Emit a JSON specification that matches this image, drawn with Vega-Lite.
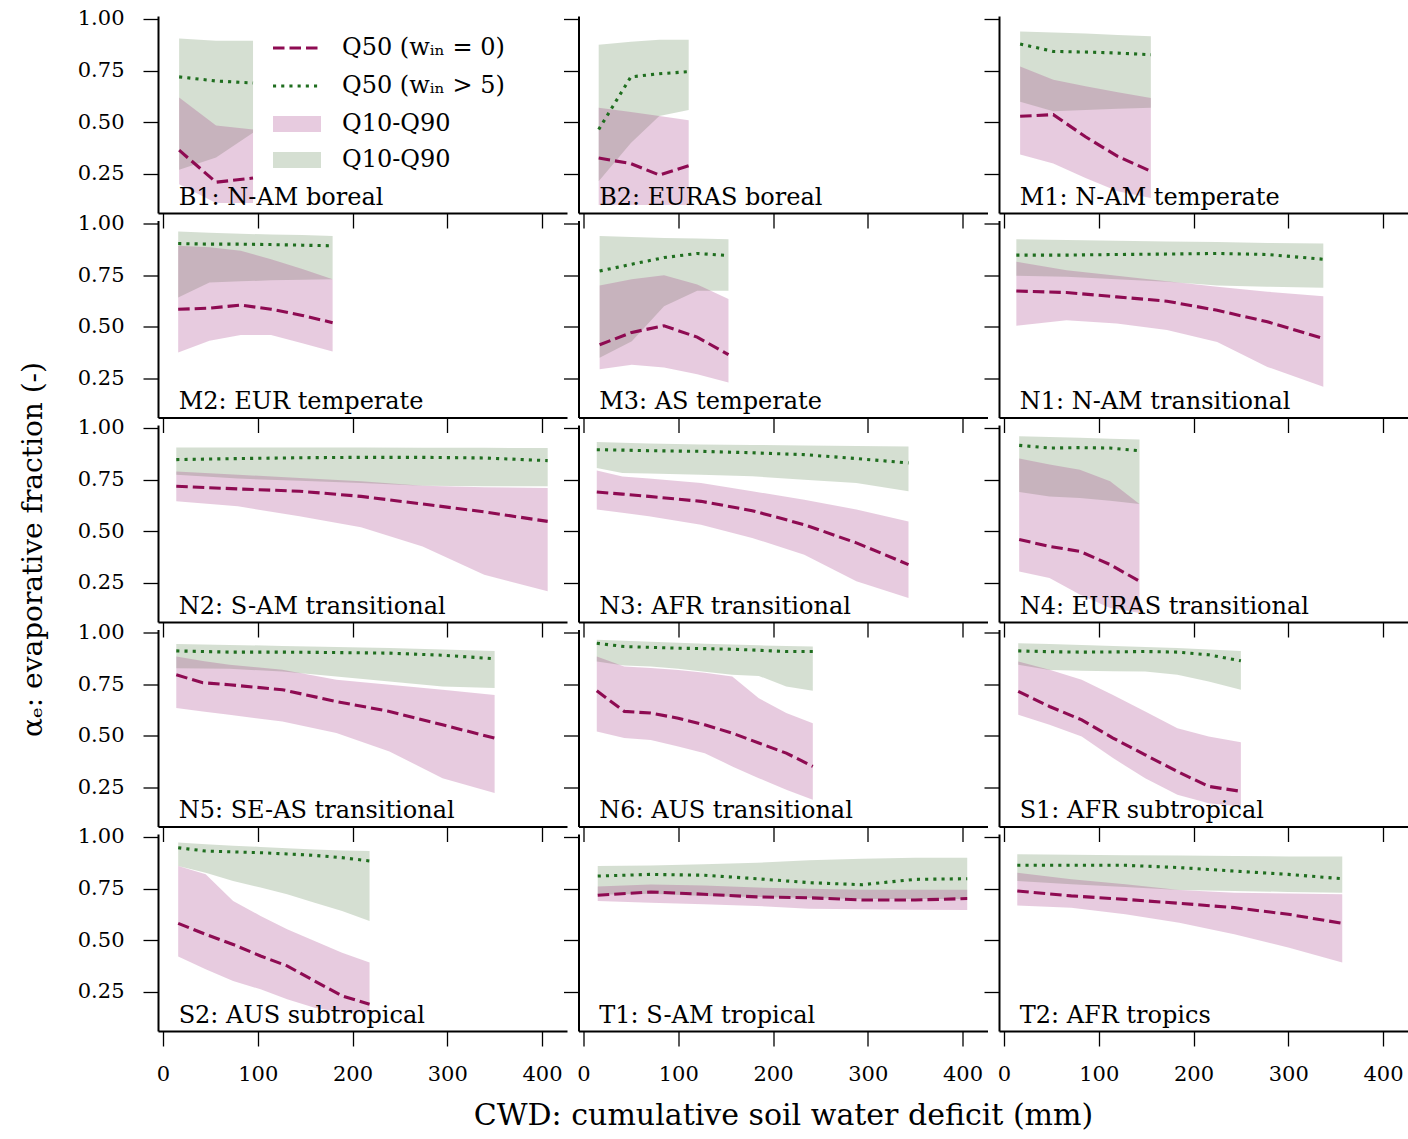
{
"$schema":"https://vega.github.io/schema/vega-lite/v6.json",
"background":"white",
"padding":{"left":19,"top":7,"right":0,"bottom":0},
"columns":3,
"spacing":{"row":7.5,"column":11.5},
"bounds":"flush",
"data":{"values":[
{"panel":"B1","cwd":17,"p10":0.20,"p50":0.365,"p90":0.62,"g10":0.27,"g50":0.72,"g90":0.905},
{"panel":"B1","cwd":56,"p10":0.11,"p50":0.21,"p90":0.485,"g10":0.33,"g50":0.70,"g90":0.895},
{"panel":"B1","cwd":95,"p10":0.11,"p50":0.23,"p90":0.465,"g10":0.45,"g50":0.69,"g90":0.895},
{"panel":"B2","cwd":16,"p10":0.10,"p50":0.327,"p90":0.57,"g10":0.215,"g50":0.465,"g90":0.875},
{"panel":"B2","cwd":50,"p10":0.10,"p50":0.30,"p90":0.55,"g10":0.40,"g50":0.72,"g90":0.89},
{"panel":"B2","cwd":80,"p10":0.10,"p50":0.245,"p90":0.53,"g10":0.53,"g50":0.735,"g90":0.90},
{"panel":"B2","cwd":111,"p10":0.10,"p50":0.29,"p90":0.51,"g10":0.56,"g50":0.745,"g90":0.90},
{"panel":"M1","cwd":17,"p10":0.344,"p50":0.529,"p90":0.77,"g10":0.60,"g50":0.879,"g90":0.94},
{"panel":"M1","cwd":52,"p10":0.30,"p50":0.537,"p90":0.706,"g10":0.553,"g50":0.843,"g90":0.935},
{"panel":"M1","cwd":86,"p10":0.23,"p50":0.43,"p90":0.674,"g10":0.56,"g50":0.84,"g90":0.93},
{"panel":"M1","cwd":120,"p10":0.166,"p50":0.335,"p90":0.645,"g10":0.565,"g50":0.835,"g90":0.922},
{"panel":"M1","cwd":155,"p10":0.134,"p50":0.263,"p90":0.618,"g10":0.57,"g50":0.827,"g90":0.916},
{"panel":"M2","cwd":16,"p10":0.376,"p50":0.585,"p90":0.892,"g10":0.642,"g50":0.903,"g90":0.961},
{"panel":"M2","cwd":49,"p10":0.432,"p50":0.59,"p90":0.885,"g10":0.715,"g50":0.90,"g90":0.955},
{"panel":"M2","cwd":82,"p10":0.46,"p50":0.605,"p90":0.868,"g10":0.72,"g50":0.90,"g90":0.95},
{"panel":"M2","cwd":114,"p10":0.46,"p50":0.585,"p90":0.827,"g10":0.725,"g50":0.898,"g90":0.947},
{"panel":"M2","cwd":147,"p10":0.42,"p50":0.555,"p90":0.78,"g10":0.728,"g50":0.895,"g90":0.944},
{"panel":"M2","cwd":179,"p10":0.38,"p50":0.52,"p90":0.73,"g10":0.73,"g50":0.892,"g90":0.94},
{"panel":"M3","cwd":17,"p10":0.295,"p50":0.413,"p90":0.70,"g10":0.35,"g50":0.77,"g90":0.94},
{"panel":"M3","cwd":51,"p10":0.316,"p50":0.473,"p90":0.73,"g10":0.43,"g50":0.803,"g90":0.935},
{"panel":"M3","cwd":85,"p10":0.303,"p50":0.505,"p90":0.75,"g10":0.60,"g50":0.835,"g90":0.93},
{"panel":"M3","cwd":120,"p10":0.27,"p50":0.45,"p90":0.705,"g10":0.674,"g50":0.855,"g90":0.927},
{"panel":"M3","cwd":153,"p10":0.23,"p50":0.365,"p90":0.634,"g10":0.674,"g50":0.845,"g90":0.924},
{"panel":"N1","cwd":13,"p10":0.505,"p50":0.673,"p90":0.815,"g10":0.747,"g50":0.847,"g90":0.924},
{"panel":"N1","cwd":66,"p10":0.532,"p50":0.666,"p90":0.774,"g10":0.742,"g50":0.847,"g90":0.92},
{"panel":"N1","cwd":119,"p10":0.516,"p50":0.645,"p90":0.747,"g10":0.73,"g50":0.85,"g90":0.917},
{"panel":"N1","cwd":172,"p10":0.484,"p50":0.624,"p90":0.72,"g10":0.718,"g50":0.852,"g90":0.913},
{"panel":"N1","cwd":225,"p10":0.427,"p50":0.58,"p90":0.694,"g10":0.70,"g50":0.855,"g90":0.91},
{"panel":"N1","cwd":278,"p10":0.306,"p50":0.524,"p90":0.67,"g10":0.694,"g50":0.85,"g90":0.906},
{"panel":"N1","cwd":337,"p10":0.21,"p50":0.444,"p90":0.648,"g10":0.689,"g50":0.827,"g90":0.903},
{"panel":"N2","cwd":14,"p10":0.645,"p50":0.718,"p90":0.79,"g10":0.774,"g50":0.847,"g90":0.906},
{"panel":"N2","cwd":79,"p10":0.621,"p50":0.705,"p90":0.774,"g10":0.755,"g50":0.852,"g90":0.906},
{"panel":"N2","cwd":144,"p10":0.573,"p50":0.694,"p90":0.758,"g10":0.745,"g50":0.856,"g90":0.905},
{"panel":"N2","cwd":209,"p10":0.519,"p50":0.669,"p90":0.742,"g10":0.734,"g50":0.858,"g90":0.905},
{"panel":"N2","cwd":274,"p10":0.427,"p50":0.632,"p90":0.72,"g10":0.72,"g50":0.858,"g90":0.904},
{"panel":"N2","cwd":339,"p10":0.29,"p50":0.594,"p90":0.713,"g10":0.718,"g50":0.855,"g90":0.904},
{"panel":"N2","cwd":406,"p10":0.21,"p50":0.548,"p90":0.71,"g10":0.718,"g50":0.842,"g90":0.903},
{"panel":"N3","cwd":14,"p10":0.605,"p50":0.69,"p90":0.794,"g10":0.806,"g50":0.895,"g90":0.932},
{"panel":"N3","cwd":41,"p10":0.59,"p50":0.68,"p90":0.765,"g10":0.782,"g50":0.893,"g90":0.928},
{"panel":"N3","cwd":69,"p10":0.573,"p50":0.669,"p90":0.755,"g10":0.78,"g50":0.89,"g90":0.925},
{"panel":"N3","cwd":124,"p10":0.532,"p50":0.645,"p90":0.734,"g10":0.774,"g50":0.887,"g90":0.92},
{"panel":"N3","cwd":178,"p10":0.468,"p50":0.60,"p90":0.694,"g10":0.766,"g50":0.88,"g90":0.918},
{"panel":"N3","cwd":233,"p10":0.387,"p50":0.532,"p90":0.653,"g10":0.75,"g50":0.871,"g90":0.915},
{"panel":"N3","cwd":288,"p10":0.258,"p50":0.444,"p90":0.605,"g10":0.734,"g50":0.852,"g90":0.913},
{"panel":"N3","cwd":343,"p10":0.177,"p50":0.339,"p90":0.548,"g10":0.694,"g50":0.831,"g90":0.911},
{"panel":"N4","cwd":16,"p10":0.306,"p50":0.46,"p90":0.852,"g10":0.69,"g50":0.916,"g90":0.96},
{"panel":"N4","cwd":48,"p10":0.274,"p50":0.427,"p90":0.823,"g10":0.669,"g50":0.903,"g90":0.957},
{"panel":"N4","cwd":80,"p10":0.194,"p50":0.403,"p90":0.798,"g10":0.661,"g50":0.905,"g90":0.953},
{"panel":"N4","cwd":112,"p10":0.129,"p50":0.339,"p90":0.742,"g10":0.648,"g50":0.903,"g90":0.948},
{"panel":"N4","cwd":143,"p10":0.105,"p50":0.258,"p90":0.632,"g10":0.632,"g50":0.89,"g90":0.944},
{"panel":"N5","cwd":14,"p10":0.634,"p50":0.795,"p90":0.884,"g10":0.827,"g50":0.911,"g90":0.944},
{"panel":"N5","cwd":42,"p10":0.618,"p50":0.757,"p90":0.862,"g10":0.826,"g50":0.908,"g90":0.942},
{"panel":"N5","cwd":70,"p10":0.602,"p50":0.747,"p90":0.844,"g10":0.824,"g50":0.905,"g90":0.94},
{"panel":"N5","cwd":126,"p10":0.569,"p50":0.723,"p90":0.82,"g10":0.811,"g50":0.905,"g90":0.935},
{"panel":"N5","cwd":183,"p10":0.513,"p50":0.666,"p90":0.771,"g10":0.787,"g50":0.903,"g90":0.93},
{"panel":"N5","cwd":239,"p10":0.424,"p50":0.618,"p90":0.747,"g10":0.763,"g50":0.90,"g90":0.925},
{"panel":"N5","cwd":295,"p10":0.295,"p50":0.553,"p90":0.723,"g10":0.739,"g50":0.89,"g90":0.918},
{"panel":"N5","cwd":350,"p10":0.223,"p50":0.489,"p90":0.698,"g10":0.731,"g50":0.873,"g90":0.911},
{"panel":"N6","cwd":14,"p10":0.521,"p50":0.718,"p90":0.884,"g10":0.86,"g50":0.948,"g90":0.965},
{"panel":"N6","cwd":43,"p10":0.489,"p50":0.618,"p90":0.835,"g10":0.84,"g50":0.932,"g90":0.96},
{"panel":"N6","cwd":71,"p10":0.48,"p50":0.61,"p90":0.828,"g10":0.835,"g50":0.928,"g90":0.955},
{"panel":"N6","cwd":100,"p10":0.448,"p50":0.585,"p90":0.819,"g10":0.825,"g50":0.924,"g90":0.95},
{"panel":"N6","cwd":128,"p10":0.416,"p50":0.553,"p90":0.805,"g10":0.81,"g50":0.922,"g90":0.945},
{"panel":"N6","cwd":157,"p10":0.352,"p50":0.513,"p90":0.787,"g10":0.795,"g50":0.919,"g90":0.942},
{"panel":"N6","cwd":185,"p10":0.295,"p50":0.465,"p90":0.682,"g10":0.79,"g50":0.914,"g90":0.938},
{"panel":"N6","cwd":214,"p10":0.239,"p50":0.416,"p90":0.61,"g10":0.739,"g50":0.908,"g90":0.935},
{"panel":"N6","cwd":242,"p10":0.19,"p50":0.352,"p90":0.561,"g10":0.718,"g50":0.908,"g90":0.932},
{"panel":"S1","cwd":15,"p10":0.602,"p50":0.715,"p90":0.86,"g10":0.844,"g50":0.911,"g90":0.948},
{"panel":"S1","cwd":48,"p10":0.553,"p50":0.642,"p90":0.82,"g10":0.819,"g50":0.907,"g90":0.944},
{"panel":"S1","cwd":82,"p10":0.497,"p50":0.577,"p90":0.771,"g10":0.815,"g50":0.905,"g90":0.94},
{"panel":"S1","cwd":115,"p10":0.392,"p50":0.489,"p90":0.698,"g10":0.813,"g50":0.906,"g90":0.935},
{"panel":"S1","cwd":149,"p10":0.295,"p50":0.408,"p90":0.618,"g10":0.811,"g50":0.908,"g90":0.93},
{"panel":"S1","cwd":183,"p10":0.215,"p50":0.327,"p90":0.537,"g10":0.795,"g50":0.905,"g90":0.925},
{"panel":"S1","cwd":216,"p10":0.174,"p50":0.255,"p90":0.497,"g10":0.763,"g50":0.892,"g90":0.918},
{"panel":"S1","cwd":250,"p10":0.158,"p50":0.231,"p90":0.469,"g10":0.723,"g50":0.863,"g90":0.911},
{"panel":"S2","cwd":16,"p10":0.421,"p50":0.582,"p90":0.86,"g10":0.86,"g50":0.948,"g90":0.973},
{"panel":"S2","cwd":45,"p10":0.36,"p50":0.529,"p90":0.82,"g10":0.827,"g50":0.932,"g90":0.965},
{"panel":"S2","cwd":74,"p10":0.303,"p50":0.48,"p90":0.69,"g10":0.787,"g50":0.928,"g90":0.958},
{"panel":"S2","cwd":103,"p10":0.263,"p50":0.424,"p90":0.618,"g10":0.755,"g50":0.924,"g90":0.952},
{"panel":"S2","cwd":131,"p10":0.215,"p50":0.376,"p90":0.553,"g10":0.723,"g50":0.918,"g90":0.946},
{"panel":"S2","cwd":160,"p10":0.174,"p50":0.303,"p90":0.497,"g10":0.682,"g50":0.911,"g90":0.94},
{"panel":"S2","cwd":189,"p10":0.15,"p50":0.231,"p90":0.44,"g10":0.642,"g50":0.90,"g90":0.935},
{"panel":"S2","cwd":218,"p10":0.15,"p50":0.19,"p90":0.392,"g10":0.594,"g50":0.884,"g90":0.932},
{"panel":"T1","cwd":15,"p10":0.69,"p50":0.718,"p90":0.76,"g10":0.72,"g50":0.811,"g90":0.86},
{"panel":"T1","cwd":71,"p10":0.682,"p50":0.734,"p90":0.77,"g10":0.725,"g50":0.819,"g90":0.862},
{"panel":"T1","cwd":127,"p10":0.674,"p50":0.723,"p90":0.765,"g10":0.715,"g50":0.815,"g90":0.868},
{"panel":"T1","cwd":183,"p10":0.666,"p50":0.71,"p90":0.755,"g10":0.71,"g50":0.798,"g90":0.875},
{"panel":"T1","cwd":238,"p10":0.653,"p50":0.706,"p90":0.75,"g10":0.705,"g50":0.779,"g90":0.887},
{"panel":"T1","cwd":294,"p10":0.65,"p50":0.695,"p90":0.745,"g10":0.70,"g50":0.769,"g90":0.895},
{"panel":"T1","cwd":350,"p10":0.648,"p50":0.695,"p90":0.745,"g10":0.70,"g50":0.795,"g90":0.90},
{"panel":"T1","cwd":405,"p10":0.647,"p50":0.702,"p90":0.745,"g10":0.70,"g50":0.798,"g90":0.90},
{"panel":"T2","cwd":14,"p10":0.669,"p50":0.739,"p90":0.827,"g10":0.787,"g50":0.863,"g90":0.916},
{"panel":"T2","cwd":71,"p10":0.658,"p50":0.715,"p90":0.795,"g10":0.771,"g50":0.863,"g90":0.914},
{"panel":"T2","cwd":128,"p10":0.626,"p50":0.698,"p90":0.771,"g10":0.758,"g50":0.863,"g90":0.912},
{"panel":"T2","cwd":185,"p10":0.585,"p50":0.679,"p90":0.744,"g10":0.744,"g50":0.852,"g90":0.91},
{"panel":"T2","cwd":243,"p10":0.529,"p50":0.658,"p90":0.73,"g10":0.739,"g50":0.835,"g90":0.908},
{"panel":"T2","cwd":300,"p10":0.465,"p50":0.626,"p90":0.726,"g10":0.734,"g50":0.819,"g90":0.906},
{"panel":"T2","cwd":357,"p10":0.392,"p50":0.582,"p90":0.723,"g10":0.73,"g50":0.798,"g90":0.905}
]},
"concat":[
{"width":409,"height":197,"transform":[{"filter":"datum.panel == 'B1'"}],"layer":[
{"mark":{"type":"area","opacity":0.25},"encoding":{"x":{"field":"cwd","type":"quantitative","scale":{"domain":[-5.3,426.4],"nice":false,"zero":false},"axis":{"values":[0,100,200,300,400],"labels":false,"title":null}},"y":{"field":"g10","type":"quantitative","scale":{"domain":[0.061,1.0145],"nice":false,"zero":false},"axis":{"values":[0.25,0.5,0.75,1],"labels":true,"format":".2f","title":null}},"y2":{"field":"g90"},"fill":{"datum":"Q10-Q90 (wᵢₙ > 5)","scale":{"domain":["Q10-Q90 (wᵢₙ = 0)","Q10-Q90 (wᵢₙ > 5)"],"range":["#a0307f","#587f4c"]},"legend":{"orient":"none","legendX":127,"legendY":96,"title":null,"symbolType":"M-3,-1H3V1H-3Z","symbolSize":256,"symbolOpacity":0.25,"symbolStrokeWidth":0,"labelOffset":33,"rowPadding":12,"labelLimit":0,"labelExpr":"'Q10-Q90'","labelFont":"DejaVu Serif","labelFontSize":24,"labelColor":"#000"}}}},
{"mark":{"type":"area","opacity":0.25},"encoding":{"x":{"field":"cwd","type":"quantitative"},"y":{"field":"p10","type":"quantitative"},"y2":{"field":"p90"},"fill":{"datum":"Q10-Q90 (wᵢₙ = 0)"}}},
{"mark":{"type":"line","strokeWidth":3.1,"strokeCap":"butt"},"encoding":{"x":{"field":"cwd","type":"quantitative"},"y":{"field":"g50","type":"quantitative"},"color":{"datum":"Q50 (wᵢₙ > 5)","scale":{"domain":["Q50 (wᵢₙ = 0)","Q50 (wᵢₙ > 5)"],"range":["#8e0b52","#1f6e1f"]},"legend":{"orient":"none","legendX":127,"legendY":20,"title":null,"symbolType":"M-3,0H3","symbolSize":256,"symbolStrokeWidth":3,"labelOffset":33,"rowPadding":14,"labelLimit":0,"labelFont":"DejaVu Serif","labelFontSize":24,"labelColor":"#000"}},"strokeDash":{"datum":"Q50 (wᵢₙ > 5)","scale":{"domain":["Q50 (wᵢₙ = 0)","Q50 (wᵢₙ > 5)"],"range":[[11.5,5],[3.1,5.1]]},"legend":{"orient":"none","legendX":127,"legendY":20,"title":null,"symbolType":"M-3,0H3","symbolSize":256,"symbolStrokeWidth":3,"labelOffset":33,"rowPadding":14,"labelLimit":0,"labelFont":"DejaVu Serif","labelFontSize":24,"labelColor":"#000"}}}},
{"mark":{"type":"line","strokeWidth":3.1,"strokeCap":"butt"},"encoding":{"x":{"field":"cwd","type":"quantitative"},"y":{"field":"p50","type":"quantitative"},"color":{"datum":"Q50 (wᵢₙ = 0)"},"strokeDash":{"datum":"Q50 (wᵢₙ = 0)"}}},
{"data":{"values":[{"panel":"B1","label":"B1: N-AM boreal"}]},"mark":{"type":"text","align":"left","baseline":"alphabetic","font":"DejaVu Serif","fontSize":24,"color":"#000"},"encoding":{"x":{"datum":16.5},"y":{"datum":0.1},"text":{"field":"label"}}}
]},
{"width":409,"height":197,"transform":[{"filter":"datum.panel == 'B2'"}],"layer":[
{"mark":{"type":"area","opacity":0.25},"encoding":{"x":{"field":"cwd","type":"quantitative","scale":{"domain":[-5.3,426.4],"nice":false,"zero":false},"axis":{"values":[0,100,200,300,400],"labels":false,"title":null}},"y":{"field":"g10","type":"quantitative","scale":{"domain":[0.061,1.0145],"nice":false,"zero":false},"axis":{"values":[0.25,0.5,0.75,1],"labels":false,"title":null}},"y2":{"field":"g90"},"fill":{"datum":"Q10-Q90 (wᵢₙ > 5)"}}},
{"mark":{"type":"area","opacity":0.25},"encoding":{"x":{"field":"cwd","type":"quantitative"},"y":{"field":"p10","type":"quantitative"},"y2":{"field":"p90"},"fill":{"datum":"Q10-Q90 (wᵢₙ = 0)"}}},
{"mark":{"type":"line","strokeWidth":3.1,"strokeCap":"butt"},"encoding":{"x":{"field":"cwd","type":"quantitative"},"y":{"field":"g50","type":"quantitative"},"color":{"datum":"Q50 (wᵢₙ > 5)"},"strokeDash":{"datum":"Q50 (wᵢₙ > 5)"}}},
{"mark":{"type":"line","strokeWidth":3.1,"strokeCap":"butt"},"encoding":{"x":{"field":"cwd","type":"quantitative"},"y":{"field":"p50","type":"quantitative"},"color":{"datum":"Q50 (wᵢₙ = 0)"},"strokeDash":{"datum":"Q50 (wᵢₙ = 0)"}}},
{"data":{"values":[{"panel":"B2","label":"B2: EURAS boreal"}]},"mark":{"type":"text","align":"left","baseline":"alphabetic","font":"DejaVu Serif","fontSize":24,"color":"#000"},"encoding":{"x":{"datum":16.5},"y":{"datum":0.1},"text":{"field":"label"}}}
]},
{"width":409,"height":197,"transform":[{"filter":"datum.panel == 'M1'"}],"layer":[
{"mark":{"type":"area","opacity":0.25},"encoding":{"x":{"field":"cwd","type":"quantitative","scale":{"domain":[-5.3,426.4],"nice":false,"zero":false},"axis":{"values":[0,100,200,300,400],"labels":false,"title":null}},"y":{"field":"g10","type":"quantitative","scale":{"domain":[0.061,1.0145],"nice":false,"zero":false},"axis":{"values":[0.25,0.5,0.75,1],"labels":false,"title":null}},"y2":{"field":"g90"},"fill":{"datum":"Q10-Q90 (wᵢₙ > 5)"}}},
{"mark":{"type":"area","opacity":0.25},"encoding":{"x":{"field":"cwd","type":"quantitative"},"y":{"field":"p10","type":"quantitative"},"y2":{"field":"p90"},"fill":{"datum":"Q10-Q90 (wᵢₙ = 0)"}}},
{"mark":{"type":"line","strokeWidth":3.1,"strokeCap":"butt"},"encoding":{"x":{"field":"cwd","type":"quantitative"},"y":{"field":"g50","type":"quantitative"},"color":{"datum":"Q50 (wᵢₙ > 5)"},"strokeDash":{"datum":"Q50 (wᵢₙ > 5)"}}},
{"mark":{"type":"line","strokeWidth":3.1,"strokeCap":"butt"},"encoding":{"x":{"field":"cwd","type":"quantitative"},"y":{"field":"p50","type":"quantitative"},"color":{"datum":"Q50 (wᵢₙ = 0)"},"strokeDash":{"datum":"Q50 (wᵢₙ = 0)"}}},
{"data":{"values":[{"panel":"M1","label":"M1: N-AM temperate"}]},"mark":{"type":"text","align":"left","baseline":"alphabetic","font":"DejaVu Serif","fontSize":24,"color":"#000"},"encoding":{"x":{"datum":16.5},"y":{"datum":0.1},"text":{"field":"label"}}}
]},
{"width":409,"height":197,"transform":[{"filter":"datum.panel == 'M2'"}],"layer":[
{"mark":{"type":"area","opacity":0.25},"encoding":{"x":{"field":"cwd","type":"quantitative","scale":{"domain":[-5.3,426.4],"nice":false,"zero":false},"axis":{"values":[0,100,200,300,400],"labels":false,"title":null}},"y":{"field":"g10","type":"quantitative","scale":{"domain":[0.061,1.0145],"nice":false,"zero":false},"axis":{"values":[0.25,0.5,0.75,1],"labels":true,"format":".2f","title":null}},"y2":{"field":"g90"},"fill":{"datum":"Q10-Q90 (wᵢₙ > 5)"}}},
{"mark":{"type":"area","opacity":0.25},"encoding":{"x":{"field":"cwd","type":"quantitative"},"y":{"field":"p10","type":"quantitative"},"y2":{"field":"p90"},"fill":{"datum":"Q10-Q90 (wᵢₙ = 0)"}}},
{"mark":{"type":"line","strokeWidth":3.1,"strokeCap":"butt"},"encoding":{"x":{"field":"cwd","type":"quantitative"},"y":{"field":"g50","type":"quantitative"},"color":{"datum":"Q50 (wᵢₙ > 5)"},"strokeDash":{"datum":"Q50 (wᵢₙ > 5)"}}},
{"mark":{"type":"line","strokeWidth":3.1,"strokeCap":"butt"},"encoding":{"x":{"field":"cwd","type":"quantitative"},"y":{"field":"p50","type":"quantitative"},"color":{"datum":"Q50 (wᵢₙ = 0)"},"strokeDash":{"datum":"Q50 (wᵢₙ = 0)"}}},
{"data":{"values":[{"panel":"M2","label":"M2: EUR temperate"}]},"mark":{"type":"text","align":"left","baseline":"alphabetic","font":"DejaVu Serif","fontSize":24,"color":"#000"},"encoding":{"x":{"datum":16.5},"y":{"datum":0.1},"text":{"field":"label"}}}
]},
{"width":409,"height":197,"transform":[{"filter":"datum.panel == 'M3'"}],"layer":[
{"mark":{"type":"area","opacity":0.25},"encoding":{"x":{"field":"cwd","type":"quantitative","scale":{"domain":[-5.3,426.4],"nice":false,"zero":false},"axis":{"values":[0,100,200,300,400],"labels":false,"title":null}},"y":{"field":"g10","type":"quantitative","scale":{"domain":[0.061,1.0145],"nice":false,"zero":false},"axis":{"values":[0.25,0.5,0.75,1],"labels":false,"title":null}},"y2":{"field":"g90"},"fill":{"datum":"Q10-Q90 (wᵢₙ > 5)"}}},
{"mark":{"type":"area","opacity":0.25},"encoding":{"x":{"field":"cwd","type":"quantitative"},"y":{"field":"p10","type":"quantitative"},"y2":{"field":"p90"},"fill":{"datum":"Q10-Q90 (wᵢₙ = 0)"}}},
{"mark":{"type":"line","strokeWidth":3.1,"strokeCap":"butt"},"encoding":{"x":{"field":"cwd","type":"quantitative"},"y":{"field":"g50","type":"quantitative"},"color":{"datum":"Q50 (wᵢₙ > 5)"},"strokeDash":{"datum":"Q50 (wᵢₙ > 5)"}}},
{"mark":{"type":"line","strokeWidth":3.1,"strokeCap":"butt"},"encoding":{"x":{"field":"cwd","type":"quantitative"},"y":{"field":"p50","type":"quantitative"},"color":{"datum":"Q50 (wᵢₙ = 0)"},"strokeDash":{"datum":"Q50 (wᵢₙ = 0)"}}},
{"data":{"values":[{"panel":"M3","label":"M3: AS temperate"}]},"mark":{"type":"text","align":"left","baseline":"alphabetic","font":"DejaVu Serif","fontSize":24,"color":"#000"},"encoding":{"x":{"datum":16.5},"y":{"datum":0.1},"text":{"field":"label"}}}
]},
{"width":409,"height":197,"transform":[{"filter":"datum.panel == 'N1'"}],"layer":[
{"mark":{"type":"area","opacity":0.25},"encoding":{"x":{"field":"cwd","type":"quantitative","scale":{"domain":[-5.3,426.4],"nice":false,"zero":false},"axis":{"values":[0,100,200,300,400],"labels":false,"title":null}},"y":{"field":"g10","type":"quantitative","scale":{"domain":[0.061,1.0145],"nice":false,"zero":false},"axis":{"values":[0.25,0.5,0.75,1],"labels":false,"title":null}},"y2":{"field":"g90"},"fill":{"datum":"Q10-Q90 (wᵢₙ > 5)"}}},
{"mark":{"type":"area","opacity":0.25},"encoding":{"x":{"field":"cwd","type":"quantitative"},"y":{"field":"p10","type":"quantitative"},"y2":{"field":"p90"},"fill":{"datum":"Q10-Q90 (wᵢₙ = 0)"}}},
{"mark":{"type":"line","strokeWidth":3.1,"strokeCap":"butt"},"encoding":{"x":{"field":"cwd","type":"quantitative"},"y":{"field":"g50","type":"quantitative"},"color":{"datum":"Q50 (wᵢₙ > 5)"},"strokeDash":{"datum":"Q50 (wᵢₙ > 5)"}}},
{"mark":{"type":"line","strokeWidth":3.1,"strokeCap":"butt"},"encoding":{"x":{"field":"cwd","type":"quantitative"},"y":{"field":"p50","type":"quantitative"},"color":{"datum":"Q50 (wᵢₙ = 0)"},"strokeDash":{"datum":"Q50 (wᵢₙ = 0)"}}},
{"data":{"values":[{"panel":"N1","label":"N1: N-AM transitional"}]},"mark":{"type":"text","align":"left","baseline":"alphabetic","font":"DejaVu Serif","fontSize":24,"color":"#000"},"encoding":{"x":{"datum":16.5},"y":{"datum":0.1},"text":{"field":"label"}}}
]},
{"width":409,"height":197,"transform":[{"filter":"datum.panel == 'N2'"}],"layer":[
{"mark":{"type":"area","opacity":0.25},"encoding":{"x":{"field":"cwd","type":"quantitative","scale":{"domain":[-5.3,426.4],"nice":false,"zero":false},"axis":{"values":[0,100,200,300,400],"labels":false,"title":null}},"y":{"field":"g10","type":"quantitative","scale":{"domain":[0.061,1.0145],"nice":false,"zero":false},"axis":{"values":[0.25,0.5,0.75,1],"labels":true,"format":".2f","title":"αₑ: evaporative fraction (-)","titleFontSize":28,"titleY":124,"titlePadding":30}},"y2":{"field":"g90"},"fill":{"datum":"Q10-Q90 (wᵢₙ > 5)"}}},
{"mark":{"type":"area","opacity":0.25},"encoding":{"x":{"field":"cwd","type":"quantitative"},"y":{"field":"p10","type":"quantitative"},"y2":{"field":"p90"},"fill":{"datum":"Q10-Q90 (wᵢₙ = 0)"}}},
{"mark":{"type":"line","strokeWidth":3.1,"strokeCap":"butt"},"encoding":{"x":{"field":"cwd","type":"quantitative"},"y":{"field":"g50","type":"quantitative"},"color":{"datum":"Q50 (wᵢₙ > 5)"},"strokeDash":{"datum":"Q50 (wᵢₙ > 5)"}}},
{"mark":{"type":"line","strokeWidth":3.1,"strokeCap":"butt"},"encoding":{"x":{"field":"cwd","type":"quantitative"},"y":{"field":"p50","type":"quantitative"},"color":{"datum":"Q50 (wᵢₙ = 0)"},"strokeDash":{"datum":"Q50 (wᵢₙ = 0)"}}},
{"data":{"values":[{"panel":"N2","label":"N2: S-AM transitional"}]},"mark":{"type":"text","align":"left","baseline":"alphabetic","font":"DejaVu Serif","fontSize":24,"color":"#000"},"encoding":{"x":{"datum":16.5},"y":{"datum":0.1},"text":{"field":"label"}}}
]},
{"width":409,"height":197,"transform":[{"filter":"datum.panel == 'N3'"}],"layer":[
{"mark":{"type":"area","opacity":0.25},"encoding":{"x":{"field":"cwd","type":"quantitative","scale":{"domain":[-5.3,426.4],"nice":false,"zero":false},"axis":{"values":[0,100,200,300,400],"labels":false,"title":null}},"y":{"field":"g10","type":"quantitative","scale":{"domain":[0.061,1.0145],"nice":false,"zero":false},"axis":{"values":[0.25,0.5,0.75,1],"labels":false,"title":null}},"y2":{"field":"g90"},"fill":{"datum":"Q10-Q90 (wᵢₙ > 5)"}}},
{"mark":{"type":"area","opacity":0.25},"encoding":{"x":{"field":"cwd","type":"quantitative"},"y":{"field":"p10","type":"quantitative"},"y2":{"field":"p90"},"fill":{"datum":"Q10-Q90 (wᵢₙ = 0)"}}},
{"mark":{"type":"line","strokeWidth":3.1,"strokeCap":"butt"},"encoding":{"x":{"field":"cwd","type":"quantitative"},"y":{"field":"g50","type":"quantitative"},"color":{"datum":"Q50 (wᵢₙ > 5)"},"strokeDash":{"datum":"Q50 (wᵢₙ > 5)"}}},
{"mark":{"type":"line","strokeWidth":3.1,"strokeCap":"butt"},"encoding":{"x":{"field":"cwd","type":"quantitative"},"y":{"field":"p50","type":"quantitative"},"color":{"datum":"Q50 (wᵢₙ = 0)"},"strokeDash":{"datum":"Q50 (wᵢₙ = 0)"}}},
{"data":{"values":[{"panel":"N3","label":"N3: AFR transitional"}]},"mark":{"type":"text","align":"left","baseline":"alphabetic","font":"DejaVu Serif","fontSize":24,"color":"#000"},"encoding":{"x":{"datum":16.5},"y":{"datum":0.1},"text":{"field":"label"}}}
]},
{"width":409,"height":197,"transform":[{"filter":"datum.panel == 'N4'"}],"layer":[
{"mark":{"type":"area","opacity":0.25},"encoding":{"x":{"field":"cwd","type":"quantitative","scale":{"domain":[-5.3,426.4],"nice":false,"zero":false},"axis":{"values":[0,100,200,300,400],"labels":false,"title":null}},"y":{"field":"g10","type":"quantitative","scale":{"domain":[0.061,1.0145],"nice":false,"zero":false},"axis":{"values":[0.25,0.5,0.75,1],"labels":false,"title":null}},"y2":{"field":"g90"},"fill":{"datum":"Q10-Q90 (wᵢₙ > 5)"}}},
{"mark":{"type":"area","opacity":0.25},"encoding":{"x":{"field":"cwd","type":"quantitative"},"y":{"field":"p10","type":"quantitative"},"y2":{"field":"p90"},"fill":{"datum":"Q10-Q90 (wᵢₙ = 0)"}}},
{"mark":{"type":"line","strokeWidth":3.1,"strokeCap":"butt"},"encoding":{"x":{"field":"cwd","type":"quantitative"},"y":{"field":"g50","type":"quantitative"},"color":{"datum":"Q50 (wᵢₙ > 5)"},"strokeDash":{"datum":"Q50 (wᵢₙ > 5)"}}},
{"mark":{"type":"line","strokeWidth":3.1,"strokeCap":"butt"},"encoding":{"x":{"field":"cwd","type":"quantitative"},"y":{"field":"p50","type":"quantitative"},"color":{"datum":"Q50 (wᵢₙ = 0)"},"strokeDash":{"datum":"Q50 (wᵢₙ = 0)"}}},
{"data":{"values":[{"panel":"N4","label":"N4: EURAS transitional"}]},"mark":{"type":"text","align":"left","baseline":"alphabetic","font":"DejaVu Serif","fontSize":24,"color":"#000"},"encoding":{"x":{"datum":16.5},"y":{"datum":0.1},"text":{"field":"label"}}}
]},
{"width":409,"height":197,"transform":[{"filter":"datum.panel == 'N5'"}],"layer":[
{"mark":{"type":"area","opacity":0.25},"encoding":{"x":{"field":"cwd","type":"quantitative","scale":{"domain":[-5.3,426.4],"nice":false,"zero":false},"axis":{"values":[0,100,200,300,400],"labels":false,"title":null}},"y":{"field":"g10","type":"quantitative","scale":{"domain":[0.061,1.0145],"nice":false,"zero":false},"axis":{"values":[0.25,0.5,0.75,1],"labels":true,"format":".2f","title":null}},"y2":{"field":"g90"},"fill":{"datum":"Q10-Q90 (wᵢₙ > 5)"}}},
{"mark":{"type":"area","opacity":0.25},"encoding":{"x":{"field":"cwd","type":"quantitative"},"y":{"field":"p10","type":"quantitative"},"y2":{"field":"p90"},"fill":{"datum":"Q10-Q90 (wᵢₙ = 0)"}}},
{"mark":{"type":"line","strokeWidth":3.1,"strokeCap":"butt"},"encoding":{"x":{"field":"cwd","type":"quantitative"},"y":{"field":"g50","type":"quantitative"},"color":{"datum":"Q50 (wᵢₙ > 5)"},"strokeDash":{"datum":"Q50 (wᵢₙ > 5)"}}},
{"mark":{"type":"line","strokeWidth":3.1,"strokeCap":"butt"},"encoding":{"x":{"field":"cwd","type":"quantitative"},"y":{"field":"p50","type":"quantitative"},"color":{"datum":"Q50 (wᵢₙ = 0)"},"strokeDash":{"datum":"Q50 (wᵢₙ = 0)"}}},
{"data":{"values":[{"panel":"N5","label":"N5: SE-AS transitional"}]},"mark":{"type":"text","align":"left","baseline":"alphabetic","font":"DejaVu Serif","fontSize":24,"color":"#000"},"encoding":{"x":{"datum":16.5},"y":{"datum":0.1},"text":{"field":"label"}}}
]},
{"width":409,"height":197,"transform":[{"filter":"datum.panel == 'N6'"}],"layer":[
{"mark":{"type":"area","opacity":0.25},"encoding":{"x":{"field":"cwd","type":"quantitative","scale":{"domain":[-5.3,426.4],"nice":false,"zero":false},"axis":{"values":[0,100,200,300,400],"labels":false,"title":null}},"y":{"field":"g10","type":"quantitative","scale":{"domain":[0.061,1.0145],"nice":false,"zero":false},"axis":{"values":[0.25,0.5,0.75,1],"labels":false,"title":null}},"y2":{"field":"g90"},"fill":{"datum":"Q10-Q90 (wᵢₙ > 5)"}}},
{"mark":{"type":"area","opacity":0.25},"encoding":{"x":{"field":"cwd","type":"quantitative"},"y":{"field":"p10","type":"quantitative"},"y2":{"field":"p90"},"fill":{"datum":"Q10-Q90 (wᵢₙ = 0)"}}},
{"mark":{"type":"line","strokeWidth":3.1,"strokeCap":"butt"},"encoding":{"x":{"field":"cwd","type":"quantitative"},"y":{"field":"g50","type":"quantitative"},"color":{"datum":"Q50 (wᵢₙ > 5)"},"strokeDash":{"datum":"Q50 (wᵢₙ > 5)"}}},
{"mark":{"type":"line","strokeWidth":3.1,"strokeCap":"butt"},"encoding":{"x":{"field":"cwd","type":"quantitative"},"y":{"field":"p50","type":"quantitative"},"color":{"datum":"Q50 (wᵢₙ = 0)"},"strokeDash":{"datum":"Q50 (wᵢₙ = 0)"}}},
{"data":{"values":[{"panel":"N6","label":"N6: AUS transitional"}]},"mark":{"type":"text","align":"left","baseline":"alphabetic","font":"DejaVu Serif","fontSize":24,"color":"#000"},"encoding":{"x":{"datum":16.5},"y":{"datum":0.1},"text":{"field":"label"}}}
]},
{"width":409,"height":197,"transform":[{"filter":"datum.panel == 'S1'"}],"layer":[
{"mark":{"type":"area","opacity":0.25},"encoding":{"x":{"field":"cwd","type":"quantitative","scale":{"domain":[-5.3,426.4],"nice":false,"zero":false},"axis":{"values":[0,100,200,300,400],"labels":false,"title":null}},"y":{"field":"g10","type":"quantitative","scale":{"domain":[0.061,1.0145],"nice":false,"zero":false},"axis":{"values":[0.25,0.5,0.75,1],"labels":false,"title":null}},"y2":{"field":"g90"},"fill":{"datum":"Q10-Q90 (wᵢₙ > 5)"}}},
{"mark":{"type":"area","opacity":0.25},"encoding":{"x":{"field":"cwd","type":"quantitative"},"y":{"field":"p10","type":"quantitative"},"y2":{"field":"p90"},"fill":{"datum":"Q10-Q90 (wᵢₙ = 0)"}}},
{"mark":{"type":"line","strokeWidth":3.1,"strokeCap":"butt"},"encoding":{"x":{"field":"cwd","type":"quantitative"},"y":{"field":"g50","type":"quantitative"},"color":{"datum":"Q50 (wᵢₙ > 5)"},"strokeDash":{"datum":"Q50 (wᵢₙ > 5)"}}},
{"mark":{"type":"line","strokeWidth":3.1,"strokeCap":"butt"},"encoding":{"x":{"field":"cwd","type":"quantitative"},"y":{"field":"p50","type":"quantitative"},"color":{"datum":"Q50 (wᵢₙ = 0)"},"strokeDash":{"datum":"Q50 (wᵢₙ = 0)"}}},
{"data":{"values":[{"panel":"S1","label":"S1: AFR subtropical"}]},"mark":{"type":"text","align":"left","baseline":"alphabetic","font":"DejaVu Serif","fontSize":24,"color":"#000"},"encoding":{"x":{"datum":16.5},"y":{"datum":0.1},"text":{"field":"label"}}}
]},
{"width":409,"height":197,"transform":[{"filter":"datum.panel == 'S2'"}],"layer":[
{"mark":{"type":"area","opacity":0.25},"encoding":{"x":{"field":"cwd","type":"quantitative","scale":{"domain":[-5.3,426.4],"nice":false,"zero":false},"axis":{"values":[0,100,200,300,400],"labels":true,"title":null}},"y":{"field":"g10","type":"quantitative","scale":{"domain":[0.061,1.0145],"nice":false,"zero":false},"axis":{"values":[0.25,0.5,0.75,1],"labels":true,"format":".2f","title":null}},"y2":{"field":"g90"},"fill":{"datum":"Q10-Q90 (wᵢₙ > 5)"}}},
{"mark":{"type":"area","opacity":0.25},"encoding":{"x":{"field":"cwd","type":"quantitative"},"y":{"field":"p10","type":"quantitative"},"y2":{"field":"p90"},"fill":{"datum":"Q10-Q90 (wᵢₙ = 0)"}}},
{"mark":{"type":"line","strokeWidth":3.1,"strokeCap":"butt"},"encoding":{"x":{"field":"cwd","type":"quantitative"},"y":{"field":"g50","type":"quantitative"},"color":{"datum":"Q50 (wᵢₙ > 5)"},"strokeDash":{"datum":"Q50 (wᵢₙ > 5)"}}},
{"mark":{"type":"line","strokeWidth":3.1,"strokeCap":"butt"},"encoding":{"x":{"field":"cwd","type":"quantitative"},"y":{"field":"p50","type":"quantitative"},"color":{"datum":"Q50 (wᵢₙ = 0)"},"strokeDash":{"datum":"Q50 (wᵢₙ = 0)"}}},
{"data":{"values":[{"panel":"S2","label":"S2: AUS subtropical"}]},"mark":{"type":"text","align":"left","baseline":"alphabetic","font":"DejaVu Serif","fontSize":24,"color":"#000"},"encoding":{"x":{"datum":16.5},"y":{"datum":0.1},"text":{"field":"label"}}}
]},
{"width":409,"height":197,"transform":[{"filter":"datum.panel == 'T1'"}],"layer":[
{"mark":{"type":"area","opacity":0.25},"encoding":{"x":{"field":"cwd","type":"quantitative","scale":{"domain":[-5.3,426.4],"nice":false,"zero":false},"axis":{"values":[0,100,200,300,400],"labels":true,"title":"CWD: cumulative soil water deficit (mm)","titleFontSize":30,"titlePadding":16}},"y":{"field":"g10","type":"quantitative","scale":{"domain":[0.061,1.0145],"nice":false,"zero":false},"axis":{"values":[0.25,0.5,0.75,1],"labels":false,"title":null}},"y2":{"field":"g90"},"fill":{"datum":"Q10-Q90 (wᵢₙ > 5)"}}},
{"mark":{"type":"area","opacity":0.25},"encoding":{"x":{"field":"cwd","type":"quantitative"},"y":{"field":"p10","type":"quantitative"},"y2":{"field":"p90"},"fill":{"datum":"Q10-Q90 (wᵢₙ = 0)"}}},
{"mark":{"type":"line","strokeWidth":3.1,"strokeCap":"butt"},"encoding":{"x":{"field":"cwd","type":"quantitative"},"y":{"field":"g50","type":"quantitative"},"color":{"datum":"Q50 (wᵢₙ > 5)"},"strokeDash":{"datum":"Q50 (wᵢₙ > 5)"}}},
{"mark":{"type":"line","strokeWidth":3.1,"strokeCap":"butt"},"encoding":{"x":{"field":"cwd","type":"quantitative"},"y":{"field":"p50","type":"quantitative"},"color":{"datum":"Q50 (wᵢₙ = 0)"},"strokeDash":{"datum":"Q50 (wᵢₙ = 0)"}}},
{"data":{"values":[{"panel":"T1","label":"T1: S-AM tropical"}]},"mark":{"type":"text","align":"left","baseline":"alphabetic","font":"DejaVu Serif","fontSize":24,"color":"#000"},"encoding":{"x":{"datum":16.5},"y":{"datum":0.1},"text":{"field":"label"}}}
]},
{"width":409,"height":197,"transform":[{"filter":"datum.panel == 'T2'"}],"layer":[
{"mark":{"type":"area","opacity":0.25},"encoding":{"x":{"field":"cwd","type":"quantitative","scale":{"domain":[-5.3,426.4],"nice":false,"zero":false},"axis":{"values":[0,100,200,300,400],"labels":true,"title":null}},"y":{"field":"g10","type":"quantitative","scale":{"domain":[0.061,1.0145],"nice":false,"zero":false},"axis":{"values":[0.25,0.5,0.75,1],"labels":false,"title":null}},"y2":{"field":"g90"},"fill":{"datum":"Q10-Q90 (wᵢₙ > 5)"}}},
{"mark":{"type":"area","opacity":0.25},"encoding":{"x":{"field":"cwd","type":"quantitative"},"y":{"field":"p10","type":"quantitative"},"y2":{"field":"p90"},"fill":{"datum":"Q10-Q90 (wᵢₙ = 0)"}}},
{"mark":{"type":"line","strokeWidth":3.1,"strokeCap":"butt"},"encoding":{"x":{"field":"cwd","type":"quantitative"},"y":{"field":"g50","type":"quantitative"},"color":{"datum":"Q50 (wᵢₙ > 5)"},"strokeDash":{"datum":"Q50 (wᵢₙ > 5)"}}},
{"mark":{"type":"line","strokeWidth":3.1,"strokeCap":"butt"},"encoding":{"x":{"field":"cwd","type":"quantitative"},"y":{"field":"p50","type":"quantitative"},"color":{"datum":"Q50 (wᵢₙ = 0)"},"strokeDash":{"datum":"Q50 (wᵢₙ = 0)"}}},
{"data":{"values":[{"panel":"T2","label":"T2: AFR tropics"}]},"mark":{"type":"text","align":"left","baseline":"alphabetic","font":"DejaVu Serif","fontSize":24,"color":"#000"},"encoding":{"x":{"datum":16.5},"y":{"datum":0.1},"text":{"field":"label"}}}
]}
],
"config":{
"view":{"stroke":null},
"axis":{"domainColor":"#000","domainWidth":2,"tickColor":"#000","tickWidth":1.3,"tickSize":15,"grid":false,"labelFont":"DejaVu Serif","labelFontSize":21,"labelColor":"#000","labelFlush":false,"labelOverlap":false,"titleFont":"DejaVu Serif","titleFontWeight":"normal","titleColor":"#000"},
"axisX":{"labelPadding":17},
"axisY":{"labelPadding":19}
}
}
